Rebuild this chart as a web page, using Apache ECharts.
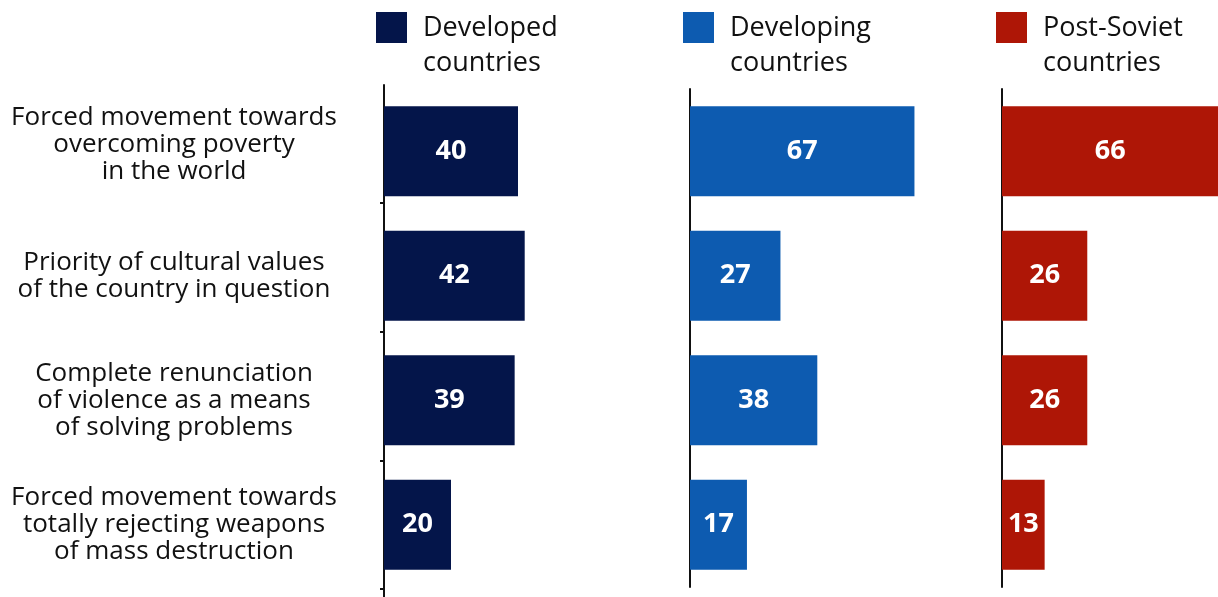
<!DOCTYPE html>
<html>
<head>
<meta charset="utf-8">
<script src="https://cdn.jsdelivr.net/npm/echarts@6/dist/echarts.min.js"></script>
<style>
  html, body { margin: 0; padding: 0; background: #fff; }
  #chart { width: 1218px; height: 597px; }
</style>
</head>
<body>
<div id="chart"></div>
<script>
// Survey answers, per cent of respondents, by country group
const categories = [
  "Forced movement towards\novercoming poverty\nin the world",
  "Priority of cultural values\nof the country in question",
  "Complete renunciation\nof violence as a means\nof solving problems",
  "Forced movement towards\ntotally rejecting weapons\nof mass destruction"
];
const groupNames = ["Developed countries", "Developing countries", "Post-Soviet countries"];
const developed = [40, 42, 39, 20];
const developing = [67, 27, 38, 17];
const postSoviet = [66, 26, 26, 13];
// tick marks on the left rule, in row units from the top of the rule
const ruleTicks = [0.92, 1.92, 2.92, 3.92];

const colors = ["#04154a", "#0d5bb0", "#ae1606"];
const FONT = "Open Sans";

const chart = echarts.init(document.getElementById("chart"), null, { renderer: "canvas" });

const panelLeft = [384, 690, 1002];
const panelWidth = [335, 335, 328];
const legendLeft = [376, 683, 996];

const grids = panelLeft.map((l, i) => ({
  left: l, top: 89, bottom: 10, width: panelWidth[i], outerBoundsMode: "none"
}));
grids.push({ left: 384, top: 85, bottom: 0, width: 10, outerBoundsMode: "none" });

const xAxes = grids.map((g, i) => ({
  type: "value", gridIndex: i, min: 0, max: 100, show: false
}));

const yAxes = [0, 1, 2].map(i => ({
  type: "category",
  gridIndex: i,
  inverse: true,
  data: categories,
  axisLine: { show: i > 0, lineStyle: { color: "#111", width: 2 } },
  axisTick: { show: false },
  axisLabel: i === 0 ? {
    show: true,
    align: "center",
    margin: 210,
    fontFamily: FONT,
    fontSize: 26,
    lineHeight: 27,
    color: "#111",
    // the first caption sits a little above its bar
    formatter: (value, idx) => idx === 0 ? value + "\n{gap| }" : value,
    rich: { gap: { fontSize: 1, lineHeight: 13 } }
  } : { show: false }
}));
// left rule of the first panel with its small ticks
yAxes.push({
  type: "value",
  gridIndex: 3,
  inverse: true,
  min: 0,
  max: 3.984,
  splitLine: { show: false },
  axisLine: { show: true, lineStyle: { color: "#111", width: 2 } },
  axisTick: { show: true, customValues: ruleTicks, length: 4, lineStyle: { color: "#111", width: 2 } },
  axisLabel: { show: false }
});

const values = [developed, developing, postSoviet];
const series = values.map((v, i) => ({
  name: groupNames[i],
  type: "bar",
  xAxisIndex: i,
  yAxisIndex: i,
  data: v,
  barWidth: 90,
  itemStyle: { color: colors[i] },
  label: {
    show: true,
    position: "inside",
    color: "#fff",
    fontFamily: FONT,
    fontWeight: "bold",
    fontSize: 27
  }
}));

// square swatch aligned with the first line of a two-line legend caption
const swatch = "path://M0,1H31V32H0Z M0,0h0 M0,70h0";

const legends = groupNames.map((n, i) => ({
  data: [n],
  left: legendLeft[i],
  top: 11,
  padding: 0,
  icon: swatch,
  itemWidth: 31,
  itemHeight: 70,
  selectedMode: false,
  formatter: name => name.replace(/ (?=\S+$)/, "\n"),
  textStyle: {
    fontFamily: FONT,
    fontSize: 27,
    lineHeight: 35,
    color: "#111",
    padding: [0, 0, 0, 11]
  }
}));

chart.setOption({
  animation: false,
  grid: grids,
  xAxis: xAxes,
  yAxis: yAxes,
  legend: legends,
  series: series
});
</script>
</body>
</html>
